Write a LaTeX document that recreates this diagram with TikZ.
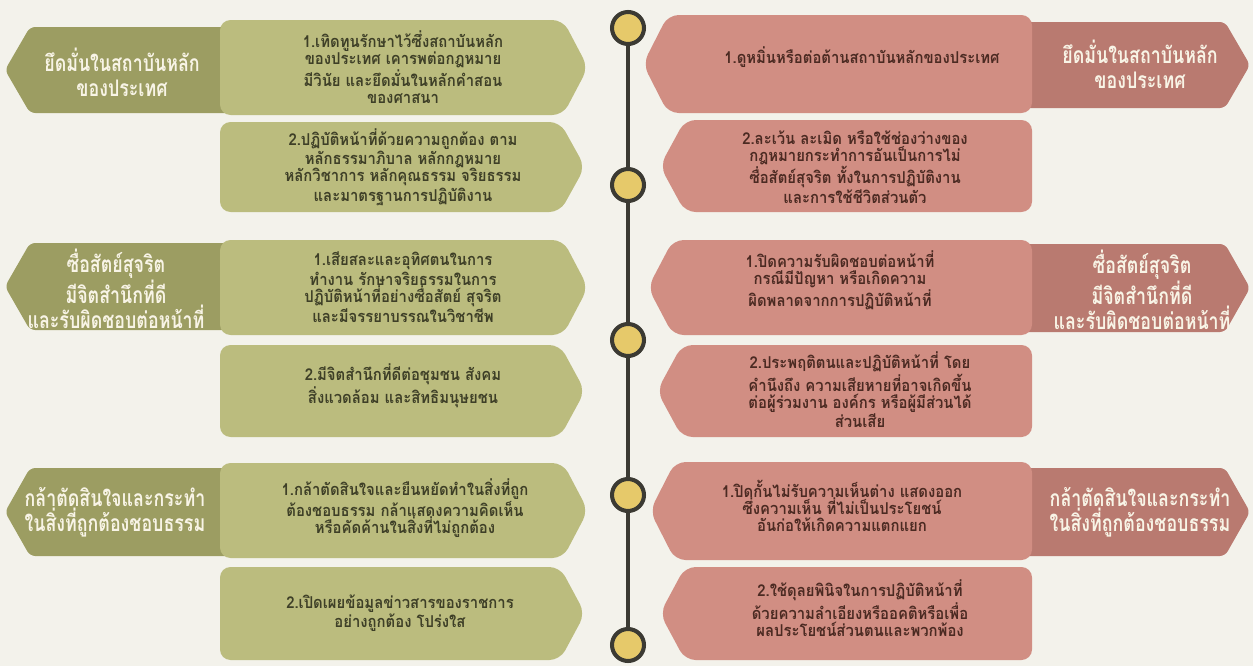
\documentclass[tikz,border=0pt]{standalone}
\usepackage{fontspec}
\newfontfamily\thaifont[Script=Thai,FakeStretch=0.91]{Loma}
\newfontfamily\thaihead[Script=Thai,FakeStretch=0.78]{Loma}
\definecolor{paper}{HTML}{F3F2EB}
\definecolor{oliveLight}{HTML}{BBBC7E}
\definecolor{oliveDark}{HTML}{9C9D62}
\definecolor{roseLight}{HTML}{D18E83}
\definecolor{roseDark}{HTML}{B97A70}
\definecolor{headText}{HTML}{F8F4E6}
\definecolor{inkL}{HTML}{3E3F27}
\definecolor{inkR}{HTML}{4B2A22}
\definecolor{dotYellow}{HTML}{E6C96A}
\definecolor{ringDark}{HTML}{3B3A33}
\tikzset{
  itemL/.style={fill=oliveLight, rounded corners=6pt},
  headL/.style={fill=oliveDark, rounded corners=3pt},
  itemR/.style={fill=roseLight, rounded corners=6pt},
  headR/.style={fill=roseDark, rounded corners=3pt},
  headtxt/.style={text=headText, align=center, font=\thaihead\bfseries\fontsize{13}{14.3}\selectfont},
  itemtxtL/.style={text=inkL, align=center, font=\thaifont\bfseries\fontsize{9.3}{9.7}\selectfont},
  itemtxtR/.style={text=inkR, align=center, font=\thaifont\bfseries\fontsize{9.3}{9.7}\selectfont},
  dot/.style={circle, draw=ringDark, line width=2.3pt, fill=dotYellow, minimum size=0.64cm, inner sep=0pt},
  spine/.style={draw=ringDark, line width=2.3pt}
}
\begin{document}
\begin{tikzpicture}[x=0.02cm,y=-0.02cm]

	%Page and background
	\useasboundingbox (0,0) rectangle (1253,666);
	\fill[paper] (0,0) rectangle (1253,666);

	%Left headers (dark olive, pointing left)
	\foreach \t/\b in {27/113, 243/330, 468/556}{
		\pgfmathsetmacro{\m}{(\t+\b)/2}
		\fill[headL] (240,\t) -- (30,\t) -- (5,\m) -- (30,\b) -- (240,\b) -- cycle;
	}
	%Left items (light olive, pointing right)
	\foreach \t/\b/\r in {20/115/588, 122/212/585, 240/335/588, 345/437/585, 463/558/588, 567/660/585}{
		\pgfmathsetmacro{\m}{(\t+\b)/2}
		\fill[itemL] (220,\t) -- (\r-25,\t) -- (\r,\m) -- (\r-25,\b) -- (220,\b) -- cycle;
	}

	%Right headers (dark rose, pointing right)
	\foreach \t/\b in {22/108, 244/332, 468/556}{
		\pgfmathsetmacro{\m}{(\t+\b)/2}
		\fill[headR] (1010,\t) -- (1225,\t) -- (1250,\m) -- (1225,\b) -- (1010,\b) -- cycle;
	}
	%Right items (light rose, pointing left)
	\foreach \t/\b/\l in {15/113/643, 120/212/660, 240/335/648, 345/437/657, 462/560/650, 567/660/660}{
		\pgfmathsetmacro{\m}{(\t+\b)/2}
		\fill[itemR] (\l,\m) -- (\l+25,\t) -- (1032,\t) -- (1032,\b) -- (\l+25,\b) -- cycle;
	}

	%Timeline
	\node[dot] (c1) at (628,28) {};
	\node[dot] (c2) at (628,185) {};
	\node[dot] (c3) at (628,340) {};
	\node[dot] (c4) at (628,495) {};
	\node[dot] (c5) at (628,645) {};
	\draw[spine] (c1.south) -- (c2.north);
	\draw[spine] (c2.south) -- (c3.north);
	\draw[spine] (c3.south) -- (c4.north);
	\draw[spine] (c4.south) -- (c5.north);

	%Left texts
	\node[headtxt] (lh1) at (122,72) {ยึดมั่นในสถาบันหลัก\\ของประเทศ};
	\node[itemtxtL] (li1) at (403,67) {1.เทิดทูนรักษาไว้ซึ่งสถาบันหลัก\\ของประเทศ เคารพต่อกฎหมาย\\มีวินัย และยึดมั่นในหลักคำสอน\\ของศาสนา};
	\node[itemtxtL] (li2) at (403,167) {2.ปฏิบัติหน้าที่ด้วยความถูกต้อง ตาม\\หลักธรรมาภิบาล หลักกฎหมาย\\หลักวิชาการ หลักคุณธรรม จริยธรรม\\และมาตรฐานการปฏิบัติงาน};
	\node[headtxt] (lh2) at (116,289) {ซื่อสัตย์สุจริต\\มีจิตสำนึกที่ดี\\และรับผิดชอบต่อหน้าที่};
	\node[itemtxtL] (li3) at (403,287) {1.เสียสละและอุทิศตนในการ\\ทำงาน รักษาจริยธรรมในการ\\ปฏิบัติหน้าที่อย่างซื่อสัตย์ สุจริต\\และมีจรรยาบรรณในวิชาชีพ};
	\node[itemtxtL] (li4) at (403,386) {2.มีจิตสำนึกที่ดีต่อชุมชน สังคม\\สิ่งแวดล้อม และสิทธิมนุษยชน};
	\node[headtxt] (lh3) at (115,512) {กล้าตัดสินใจและกระทำ\\ในสิ่งที่ถูกต้องชอบธรรม};
	\node[itemtxtL] (li5) at (405,508) {1.กล้าตัดสินใจและยืนหยัดทำในสิ่งที่ถูก\\ต้องชอบธรรม กล้าแสดงความคิดเห็น\\หรือคัดค้านในสิ่งที่ไม่ถูกต้อง};
	\node[itemtxtL] (li6) at (400,613) {2.เปิดเผยข้อมูลข่าวสารของราชการ\\อย่างถูกต้อง โปร่งใส};

	%Right texts
	\node[itemtxtR] (ri1) at (862,57) {1.ดูหมิ่นหรือต่อต้านสถาบันหลักของประเทศ};
	\node[headtxt] (rh1) at (1140,64) {ยึดมั่นในสถาบันหลัก\\ของประเทศ};
	\node[itemtxtR] (ri2) at (855,167) {2.ละเว้น ละเมิด หรือใช้ช่องว่างของ\\กฎหมายกระทำการอันเป็นการไม่\\ซื่อสัตย์สุจริต ทั้งในการปฏิบัติงาน\\และการใช้ชีวิตส่วนตัว};
	\node[itemtxtR] (ri3) at (840,280) {1.ปิดความรับผิดชอบต่อหน้าที่\\กรณีมีปัญหา หรือเกิดความ\\ผิดพลาดจากการปฏิบัติหน้าที่};
	\node[headtxt] (rh2) at (1142,290) {ซื่อสัตย์สุจริต\\มีจิตสำนึกที่ดี\\และรับผิดชอบต่อหน้าที่};
	\node[itemtxtR] (ri4) at (860,390) {2.ประพฤติตนและปฏิบัติหน้าที่ โดย\\คำนึงถึง ความเสียหายที่อาจเกิดขึ้น\\ต่อผู้ร่วมงาน องค์กร หรือผู้มีส่วนได้\\ส่วนเสีย};
	\node[headtxt] (rh3) at (1140,512) {กล้าตัดสินใจและกระทำ\\ในสิ่งที่ถูกต้องชอบธรรม};
	\node[itemtxtR] (ri5) at (842,506) {1.ปิดกั้นไม่รับความเห็นต่าง แสดงออก\\ซึ่งความเห็น ที่ไม่เป็นประโยชน์\\อันก่อให้เกิดความแตกแยก};
	\node[itemtxtR] (ri6) at (860,608) {2.ใช้ดุลยพินิจในการปฏิบัติหน้าที่\\ด้วยความลำเอียงหรืออคติหรือเพื่อ\\ผลประโยชน์ส่วนตนและพวกพ้อง};

\end{tikzpicture}
\end{document}
